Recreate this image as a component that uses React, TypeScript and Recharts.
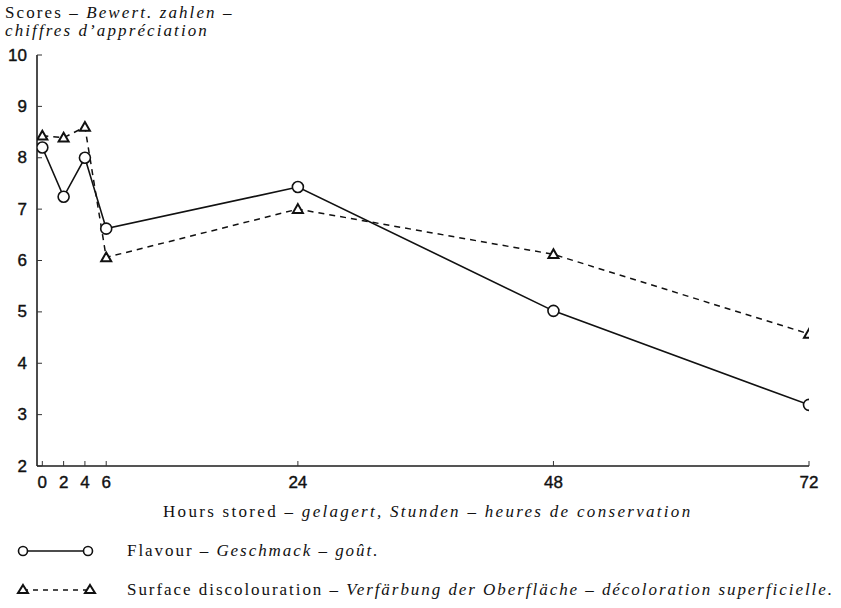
import React from "react";
import { Line, LineChart, XAxis, YAxis } from "recharts";

const hours = [0, 2, 4, 6, 24, 48, 72];
const flavour = [8.2, 7.24, 8.0, 6.62, 7.43, 5.02, 3.19];
const surface = [8.43, 8.39, 8.6, 6.06, 7.0, 6.12, 4.57];

const xTicks = [0, 2, 4, 6, 24, 48, 72];
const yTicks = [2, 3, 4, 5, 6, 7, 8, 9, 10];

const data = hours.map((h, i) => ({ h, flavour: flavour[i], surface: surface[i] }));

const serif = '"Liberation Serif", "Times New Roman", serif';
const sans = '"Liberation Sans", Arial, sans-serif';
const textStyle: React.CSSProperties = {
  position: "absolute",
  fontFamily: serif,
  fontSize: 17,
  letterSpacing: 2.1,
  color: "#111",
  whiteSpace: "nowrap",
  lineHeight: "18px",
};

function YTick({ x, y, payload }: any) {
  return (
    <g>
      <line x1={x} y1={y} x2={x + 5} y2={y} stroke="#333" strokeWidth={1} />
      <text
        x={x - 10}
        y={y}
        textAnchor="end"
        dominantBaseline="central"
        fontFamily={sans}
        fontSize={17}
        fill="#111"
        stroke="#111"
        strokeWidth={0.4}
      >
        {payload.value}
      </text>
    </g>
  );
}

function XTick({ x, y, payload }: any) {
  return (
    <g>
      <line x1={x} y1={y} x2={x} y2={y - 5} stroke="#333" strokeWidth={1} />
      <text
        x={x}
        y={y + 16}
        textAnchor="middle"
        dominantBaseline="central"
        fontFamily={sans}
        fontSize={17}
        fill="#111"
        stroke="#111"
        strokeWidth={0.4}
      >
        {payload.value}
      </text>
    </g>
  );
}

function CircleDot({ cx, cy, index }: any) {
  return <circle key={`c${index}`} cx={cx} cy={cy} r={5.5} fill="#fff" stroke="#111" strokeWidth={1.6} />;
}

function TriangleDot({ cx, cy, index }: any) {
  const s = 5;
  return (
    <path
      key={`t${index}`}
      d={`M${cx},${cy - s} L${cx + s},${cy + s * 0.75} L${cx - s},${cy + s * 0.75} Z`}
      fill="#fff"
      stroke="#111"
      strokeWidth={2}
    />
  );
}

export default function App() {
  return (
    <div style={{ position: "absolute", left: 0, top: 0, width: 841, height: 608, background: "#fff" }}>
      <LineChart width={841} height={608} data={data} margin={{ top: 55, right: 32, left: 0, bottom: 112 }}>
        <XAxis
          dataKey="h"
          type="number"
          domain={[-0.5, 72]}
          ticks={xTicks}
          height={30}
          tickSize={0}
          tickMargin={0}
          tick={<XTick />}
          axisLine={{ stroke: "#555", strokeWidth: 2 }}
          allowDataOverflow
        />
        <YAxis
          type="number"
          domain={[2, 10]}
          ticks={yTicks}
          width={37}
          tickSize={0}
          tickMargin={0}
          tick={<YTick />}
          axisLine={{ stroke: "#111", strokeWidth: 1.5 }}
          allowDataOverflow
        />
        <Line
          dataKey="surface"
          type="linear"
          stroke="#111"
          strokeWidth={1.5}
          strokeDasharray="6 5"
          dot={TriangleDot}
          activeDot={false}
          isAnimationActive={false}
        />
        <Line
          dataKey="flavour"
          type="linear"
          stroke="#111"
          strokeWidth={1.6}
          dot={CircleDot}
          activeDot={false}
          isAnimationActive={false}
        />
      </LineChart>

      <div style={{ ...textStyle, left: 5, top: 4 }}>
        Scores – <i>Bewert. zahlen –</i>
        <br />
        <i>chiffres d’appréciation</i>
      </div>

      <div style={{ ...textStyle, left: 163, top: 503, letterSpacing: 2.3 }}>
        Hours stored – <i>gelagert, Stunden – heures de conservation</i>
      </div>

      <svg width={841} height={608} style={{ position: "absolute", left: 0, top: 0, pointerEvents: "none" }}>
        <line x1={23} y1={551} x2={88} y2={551} stroke="#111" strokeWidth={1.6} />
        <circle cx={23} cy={551} r={4.5} fill="#fff" stroke="#111" strokeWidth={1.6} />
        <circle cx={88} cy={551} r={4.5} fill="#fff" stroke="#111" strokeWidth={1.6} />
        <line x1={23} y1={590} x2={90} y2={590} stroke="#111" strokeWidth={1.4} strokeDasharray="5 5" />
        <path d="M23,585 L28,593 L18,593 Z" fill="#fff" stroke="#111" strokeWidth={2} />
        <path d="M90,585 L95,593 L85,593 Z" fill="#fff" stroke="#111" strokeWidth={2} />
      </svg>

      <div style={{ ...textStyle, left: 127, top: 542, letterSpacing: 1.95 }}>
        Flavour – <i>Geschmack – goût.</i>
      </div>
      <div style={{ ...textStyle, left: 127, top: 581, letterSpacing: 1.95 }}>
        Surface discolouration – <i>Verfärbung der Oberfläche – décoloration superficielle.</i>
      </div>
    </div>
  );
}
